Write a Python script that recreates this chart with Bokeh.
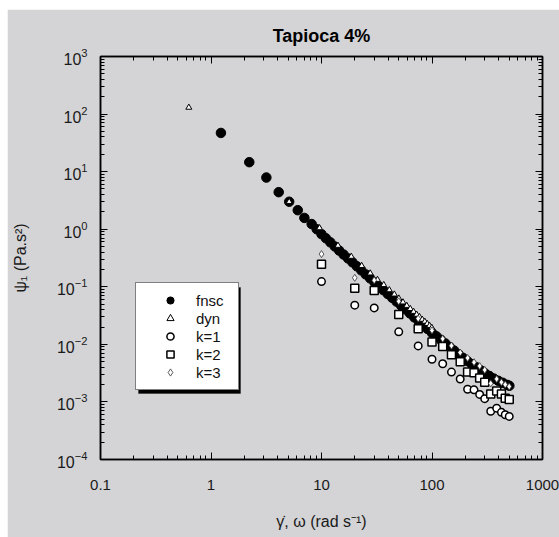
from bokeh.plotting import figure
from bokeh.models import (LogAxis, Legend, LegendItem, CustomJSTickFormatter,
                          BoxAnnotation, LogTicker)
from bokeh.embed import file_html
from bokeh.resources import INLINE

# ---------------- data ----------------
fnsc_x = [1.23, 2.22, 3.17, 4.1, 5.1, 6.1, 7.0, 8.15, 9.05,
          10.0, 10.96, 12.02, 13.18, 14.45, 15.85, 17.38, 19.05, 20.89, 22.91,
          25.12, 27.54, 30.2, 33.11, 36.31, 39.81, 43.65, 47.86, 52.48, 57.54,
          63.1, 69.18, 75.86, 83.18, 91.2, 100.0, 109.6, 120.2, 131.8, 144.5,
          158.5, 173.8, 190.5, 208.9, 229.1, 251.2, 275.4, 302.0, 331.1, 363.1,
          398.1, 436.5, 478.6, 501.2]
fnsc_y = [47, 14.6, 7.9, 4.4, 3.0, 2.14, 1.57, 1.23, 1.0,
          0.82, 0.697, 0.592, 0.501, 0.426, 0.363, 0.311, 0.266, 0.227, 0.193,
          0.164, 0.140, 0.119, 0.102, 0.0873, 0.0750, 0.0643, 0.0551, 0.0472, 0.0404,
          0.0345, 0.0294, 0.0252, 0.0216, 0.0185, 0.0158, 0.0138, 0.0120, 0.0104, 0.00902,
          0.00780, 0.00675, 0.00583, 0.00513, 0.00453, 0.00401, 0.00354, 0.00314, 0.00282, 0.00254,
          0.00233, 0.00215, 0.00198, 0.00191]

dyn_x = [0.63, 5.1, 9.6, 14.1, 18.6, 23.1, 27.6, 32.1, 36.6, 41.1, 45.6, 50.1,
         54.6, 59.1, 63.6, 68.1, 72.6, 77.1, 81.6, 86.1, 90.6, 95.1, 99.6]
dyn_y = [130, 3.0, 1.05, 0.52, 0.335, 0.232, 0.172, 0.133, 0.108, 0.088, 0.074, 0.063,
         0.054, 0.047, 0.0415, 0.037, 0.033, 0.030, 0.027, 0.0249, 0.0228, 0.0211, 0.0195]

k_x = [10, 20, 30, 50, 75, 100, 125, 150, 180, 210, 240, 270, 300, 340, 385, 425, 460, 500]
k1_y = [0.123, 0.048, 0.043, 0.0165, 0.0094, 0.0055, 0.0046, 0.0033, 0.0025, 0.00166,
        0.00162, 0.00135, 0.00114, 0.00069, 0.00078, 0.00066, 0.0006, 0.00056]
k2_y = [0.247, 0.094, 0.086, 0.033, 0.0186, 0.011, 0.0092, 0.0066, 0.005, 0.0033,
        0.0032, 0.0026, 0.0022, 0.00137, 0.00155, 0.00137, 0.00116, 0.0011]
k3_y = [0.37, 0.143, 0.13, 0.056, 0.028, 0.0175, 0.0125, 0.0095, 0.0072, 0.0058,
        0.0049, 0.0042, 0.0036, 0.0021, 0.0025, 0.0022, 0.0020, 0.00185]

series_labels = ["fnsc", "dyn", "k=1", "k=2", "k=3"]
title_text = "Tapioca 4%"
x_label = "\u03b3\u0307, \u03c9 (rad s\u207b\u00b9)"
y_label = "\u03c8\u2081 (Pa.s\u00b2)"

# ---------------- figure ----------------
BG = "#d4d4d6"
FONT = "Liberation Sans"
W, H = 552, 528
ML, MR, MT, MB = 93, 17, 47, 78
fw = W - ML - MR
fh = H - MT - MB

p = figure(width=W, height=H, x_axis_type="log", y_axis_type="log",
           x_range=(0.1, 1000), y_range=(1e-4, 1e3),
           output_backend="svg", toolbar_location=None,
           min_border_left=ML, min_border_right=MR, min_border_top=MT, min_border_bottom=MB,
           background_fill_color=BG, border_fill_color=BG)
p.margin = (9, 0, 0, 7)
p.outline_line_color = "black"
p.outline_line_width = 1.5
p.xgrid.visible = False
p.ygrid.visible = False

p.title.text = title_text
p.title.align = "center"
p.title.text_font = FONT
p.title.text_font_size = "18px"
p.title.text_font_style = "bold"
p.title.text_color = "black"
p.title.standoff = 22

xt = LogTicker(desired_num_ticks=5, num_minor_ticks=10)
yt = LogTicker(desired_num_ticks=10, num_minor_ticks=10)

def style_axis(ax):
    ax.axis_line_color = "black"
    ax.axis_line_width = 1.5
    ax.major_tick_in = 7
    ax.major_tick_out = 0
    ax.minor_tick_in = 4
    ax.minor_tick_out = 0
    ax.major_tick_line_color = "black"
    ax.minor_tick_line_color = "black"
    ax.major_label_text_font = FONT
    ax.major_label_text_font_size = "15px"
    ax.major_label_text_color = "#1a1a1a"
    ax.axis_label_text_font = FONT
    ax.axis_label_text_font_size = "16px"
    ax.axis_label_text_font_style = "normal"
    ax.axis_label_text_color = "#1a1a1a"

xa = p.xaxis[0]
xa.ticker = xt
xa.formatter = CustomJSTickFormatter(code="return tick < 1 ? tick.toFixed(1) : tick.toFixed(0);")
style_axis(xa)
xa.major_label_standoff = 20
xa.axis_label = x_label
xa.axis_label_standoff = 20

ya = p.yaxis[0]
ya.ticker = yt
style_axis(ya)
ya.major_label_text_font_size = "16px"
ya.major_label_standoff = 13
ya.axis_label = y_label
ya.axis_label_standoff = 25

top = LogAxis(ticker=xt)
style_axis(top)
top.major_label_text_font_size = "2px"
top.major_label_text_alpha = 0
top.major_label_standoff = 0
p.add_layout(top, "above")
right = LogAxis(ticker=yt)
style_axis(right)
right.major_label_text_font_size = "2px"
right.major_label_text_alpha = 0
right.major_label_standoff = 0
p.add_layout(right, "right")

# ---------------- series ----------------
r_fnsc = p.scatter(fnsc_x, fnsc_y, marker="circle", size=9.5,
                   fill_color="black", line_color="black")
r_dyn = p.scatter(dyn_x, dyn_y, marker="triangle", size=6,
                  fill_color="white", line_color="black", line_width=1)
r_k1 = p.scatter(k_x, k1_y, marker="circle", size=7.5,
                 fill_color="white", line_color="black", line_width=1.5)
r_k2 = p.scatter(k_x, k2_y, marker="square", size=8,
                 fill_color="white", line_color="black", line_width=1.5)
r_k3 = p.scatter(k_x, k3_y, marker="diamond", size=7,
                 fill_color="white", line_color="#333333", line_width=0.8)

# ---------------- legend with drop shadow ----------------
LX, LY, LW, LH = 35, 69, 102, 106   # legend box, px from frame bottom-left
def px2x(px):
    return 10 ** (-1 + 4.0 * px / fw)
def py2y(py):
    return 10 ** (-4 + 7.0 * py / fh)
shadow = BoxAnnotation(left=px2x(LX + 3), right=px2x(LX + LW + 3),
                       bottom=py2y(LY - 3), top=py2y(LY + LH - 3),
                       fill_color="black", fill_alpha=1.0, line_color="black")
p.add_layout(shadow)

items = [LegendItem(label=lab, renderers=[r]) for lab, r in
         zip(series_labels, [r_fnsc, r_dyn, r_k1, r_k2, r_k3])]
legend = Legend(items=items, location=(LX, LY), orientation="vertical",
                label_text_font=FONT, label_text_font_size="15px", label_text_color="#111111",
                glyph_width=52, glyph_height=18, label_height=18, label_width=34,
                label_standoff=0, spacing=0, padding=8, margin=0,
                border_line_color="black", border_line_width=1.2,
                background_fill_color="white", background_fill_alpha=1.0)
p.add_layout(legend, "center")

open("out.html", "w").write(file_html(p, INLINE))
